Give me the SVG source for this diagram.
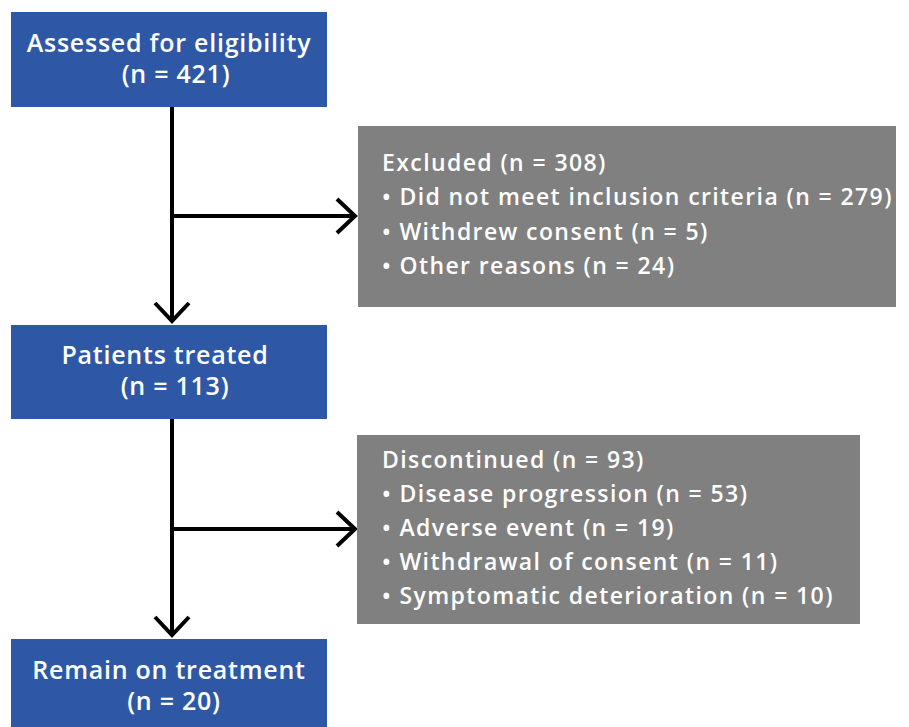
<svg xmlns="http://www.w3.org/2000/svg" width="909" height="727" viewBox="0 0 909 727">
<style>
.blue{fill:#2E58A6}
.gray{fill:#808080}
.bt{font-family:"Open Sans",Lato,"DejaVu Sans",sans-serif;font-size:25px;fill:#fff;text-anchor:middle;font-weight:600;letter-spacing:0.75px}
.gt{font-family:"Open Sans",Lato,"DejaVu Sans",sans-serif;font-size:23px;fill:#fff;font-weight:600;letter-spacing:1.4px}
.ln{fill:none;stroke:#000;stroke-width:4;stroke-linecap:butt;stroke-linejoin:miter}
</style>
<rect width="909" height="727" fill="#fff"/>
<g id="connectors">
<line class="ln" x1="172" y1="106" x2="172" y2="322"/>
<polyline class="ln" points="155,303 172,321 189,303"/>
<line class="ln" x1="172" y1="216" x2="355" y2="216"/>
<polyline class="ln" points="337,199 355,216 337,233"/>
<line class="ln" x1="172" y1="419" x2="172" y2="636"/>
<polyline class="ln" points="155,617 172,635 189,617"/>
<line class="ln" x1="172" y1="529" x2="355" y2="529"/>
<polyline class="ln" points="337,512 355,529 337,546"/>
</g>
<g id="assessed">
<rect class="blue" x="11" y="12" width="316" height="95"/>
<text class="bt" x="169" y="52">Assessed for eligibility</text>
<text class="bt" x="176" y="83">(n = 421)</text>
</g>
<g id="excluded">
<rect class="gray" x="358" y="126" width="538" height="181"/>
<text class="gt" x="382" y="171">Excluded (n = 308)</text>
<text class="gt" x="382" y="205">• Did not meet inclusion criteria (n = 279)</text>
<text class="gt" x="382" y="240">• Withdrew consent (n = 5)</text>
<text class="gt" x="382" y="274">• Other reasons (n = 24)</text>
</g>
<g id="treated">
<rect class="blue" x="11" y="325" width="316" height="94"/>
<text class="bt" x="165" y="364">Patients treated</text>
<text class="bt" x="175" y="395">(n = 113)</text>
</g>
<g id="discontinued">
<rect class="gray" x="357" y="435" width="503" height="189"/>
<text class="gt" x="382" y="468">Discontinued (n = 93)</text>
<text class="gt" x="382" y="502">• Disease progression (n = 53)</text>
<text class="gt" x="382" y="536">• Adverse event (n = 19)</text>
<text class="gt" x="382" y="570">• Withdrawal of consent (n = 11)</text>
<text class="gt" x="382" y="604">• Symptomatic deterioration (n = 10)</text>
</g>
<g id="remain">
<rect class="blue" x="11" y="639" width="316" height="88"/>
<text class="bt" x="169" y="679">Remain on treatment</text>
<text class="bt" x="174" y="710">(n = 20)</text>
</g>
</svg>
